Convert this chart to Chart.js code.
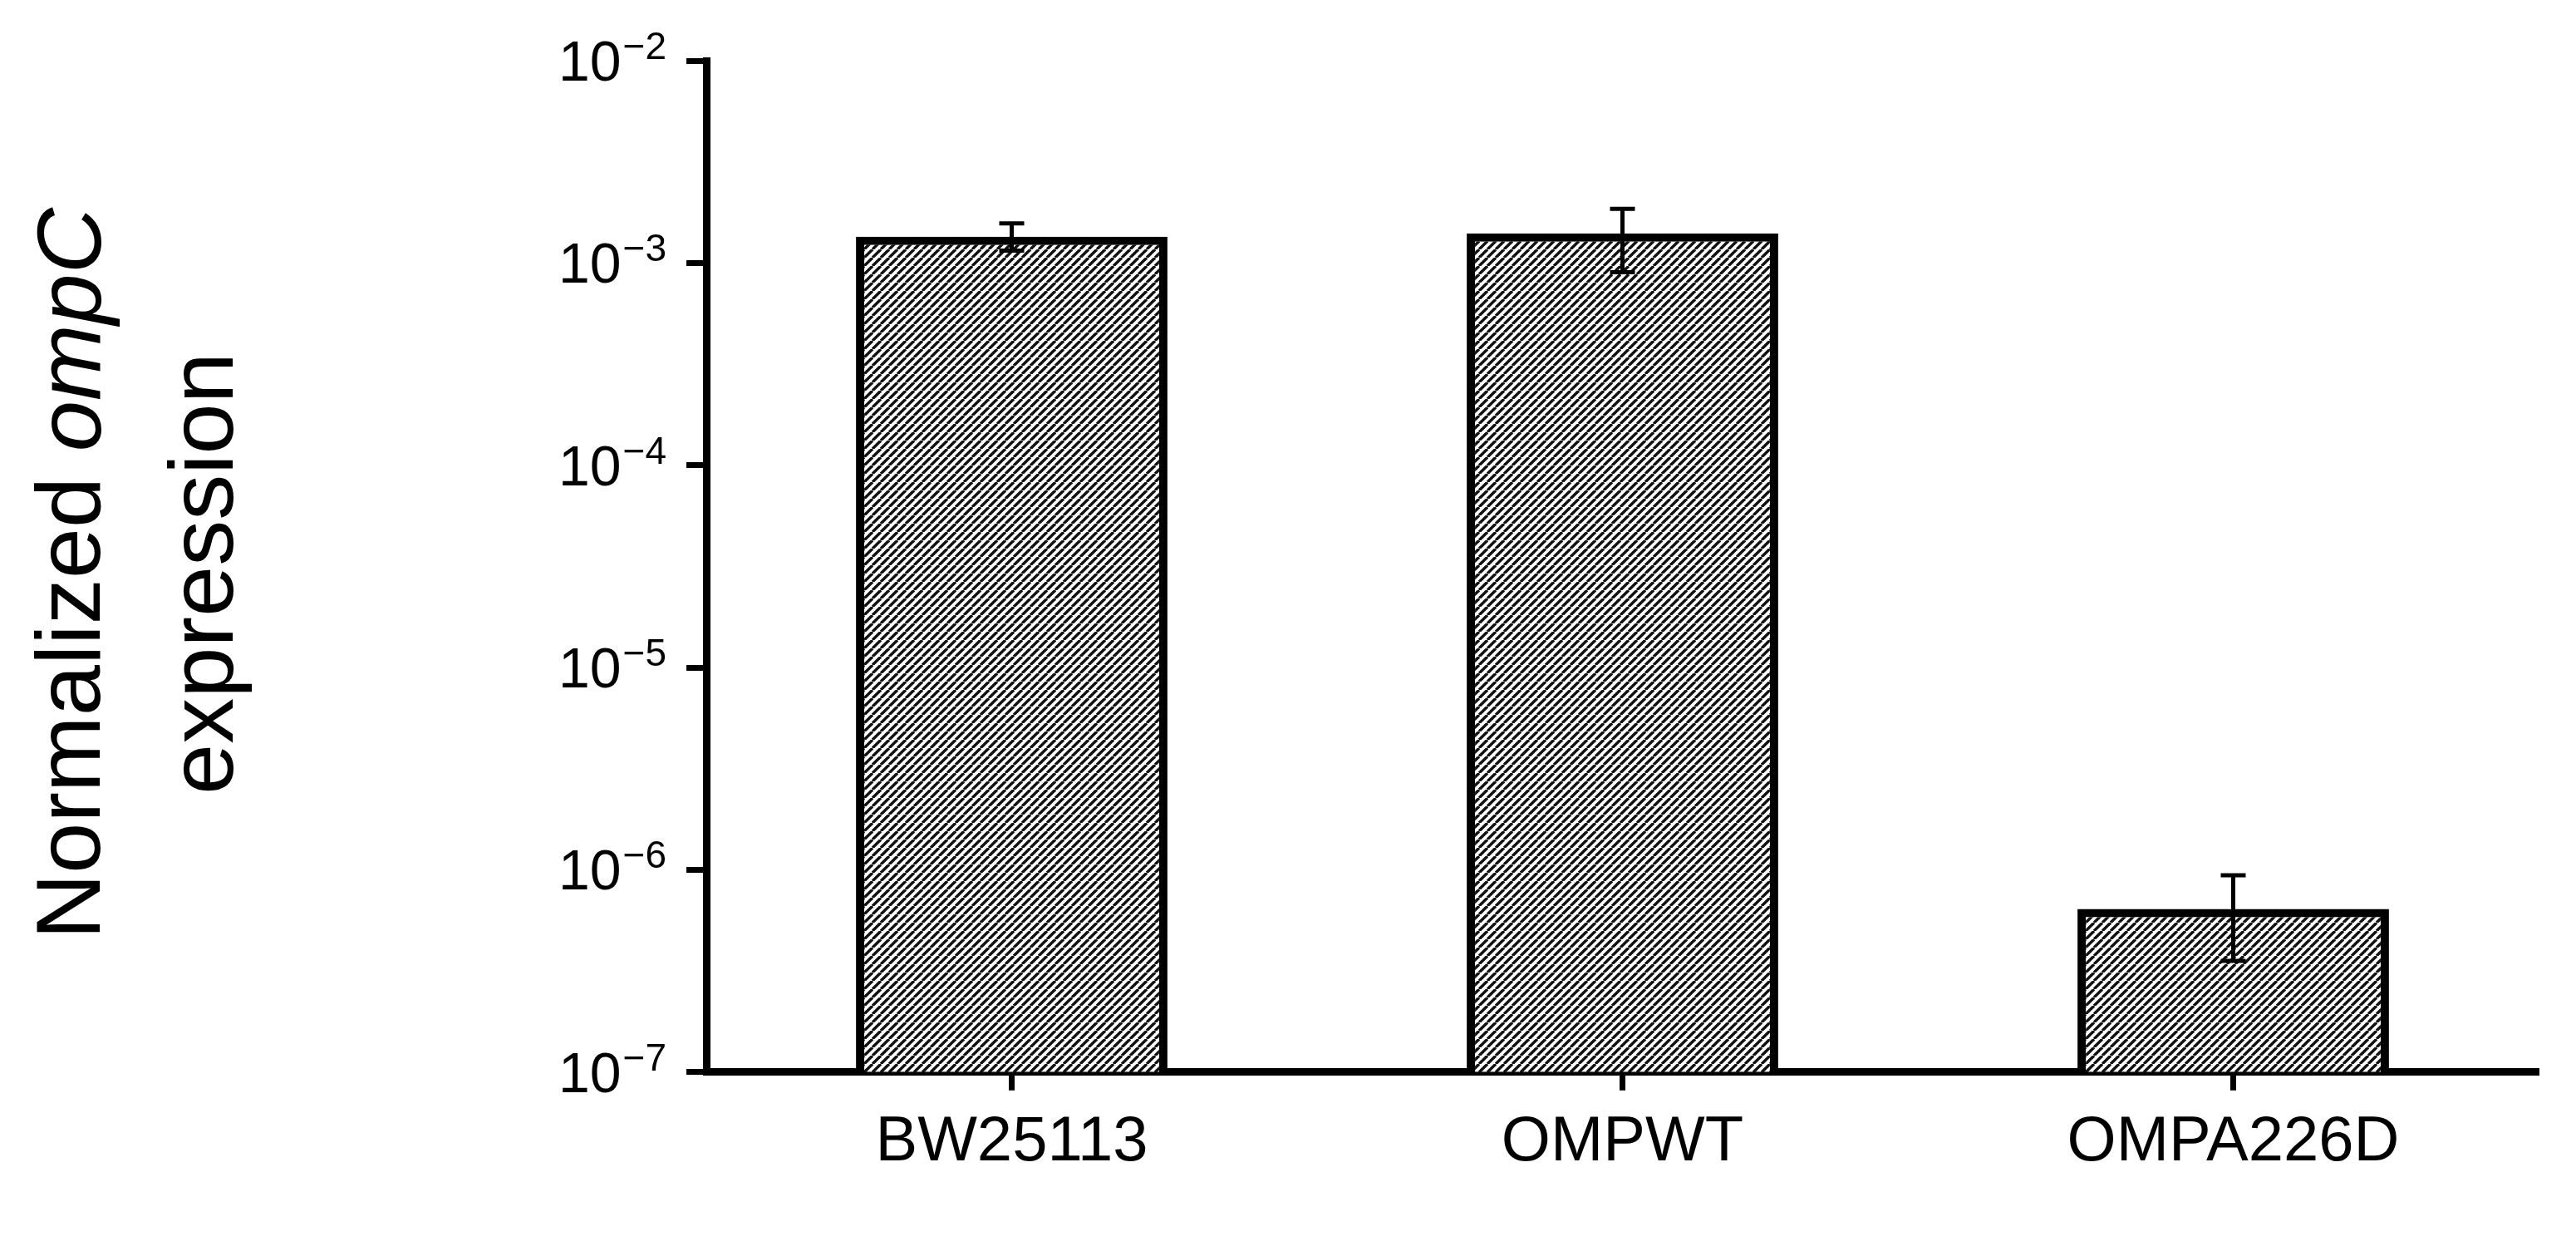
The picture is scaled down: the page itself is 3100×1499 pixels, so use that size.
<!DOCTYPE html>
<html><head><meta charset="utf-8">
<script src="https://cdn.jsdelivr.net/npm/chart.js@4.4.0/dist/chart.umd.min.js"></script>
<style>html,body{margin:0;padding:0;background:#fff}#w{width:3100px;height:1499px}</style>
</head><body><div id="w"><canvas id="c"></canvas></div>
<script>
const categories = ["BW25113", "OMPWT", "OMPA226D"];
const values = [1.35e-3, 1.40e-3, 6.4e-7];
const errLow = [1.15e-3, 0.90e-3, 3.55e-7];
const errHigh = [1.57e-3, 1.85e-3, 9.4e-7];
const decadeTicks = [-7, -6, -5, -4, -3, -2];
const FONT = '"Liberation Sans", Arial, sans-serif';

function hatch(){
  const s = 10, p = document.createElement('canvas'); p.width = s; p.height = s;
  const g = p.getContext('2d'); g.fillStyle = '#fff'; g.fillRect(0,0,s,s);
  g.strokeStyle = '#111'; g.lineWidth = 3.4;
  for (const o of [-s, 0, s]) { g.beginPath(); g.moveTo(o, s); g.lineTo(o + s, 0); g.stroke(); }
  return document.getElementById('c').getContext('2d').createPattern(p, 'repeat');
}

const errPlugin = {
  id: 'err',
  afterDatasetsDraw(chart){
    const ctx = chart.ctx, y = chart.scales.y, meta = chart.getDatasetMeta(0);
    ctx.save(); ctx.strokeStyle = '#000'; ctx.lineWidth = 5;
    meta.data.forEach((b, i) => {
      const x = b.x, y1 = y.getPixelForValue(errLow[i]), y2 = y.getPixelForValue(errHigh[i]);
      ctx.beginPath(); ctx.moveTo(x, y1); ctx.lineTo(x, y2);
      ctx.moveTo(x - 15, y1); ctx.lineTo(x + 15, y1);
      ctx.moveTo(x - 15, y2); ctx.lineTo(x + 15, y2); ctx.stroke();
    });
    ctx.restore();
  }
};
const labelPlugin = {
  id: 'ylabels',
  afterDraw(chart){
    const ctx = chart.ctx, y = chart.scales.y; ctx.save();
    ctx.fillStyle = '#000'; ctx.textBaseline = 'alphabetic';
    const right = y.right - 48;
    decadeTicks.forEach(e => {
      const py = y.getPixelForValue(Math.pow(10, e));
      const ex = '\u2212' + Math.abs(e);
      ctx.font = '46px ' + FONT; const we = ctx.measureText(ex).width;
      ctx.textAlign = 'left';
      ctx.fillText(ex, right - we, py - 2);
      ctx.font = '68px ' + FONT; ctx.textAlign = 'right';
      ctx.fillText('10', right - we - 2, py + 24);
    });
    // title
    ctx.translate(0, 690); ctx.rotate(-Math.PI/2);
    ctx.textBaseline = 'middle';
    const f = '110px ' + FONT, fi = 'italic 110px ' + FONT;
    ctx.font = f; const a = 'Normalized '; const wa = ctx.measureText(a).width;
    ctx.font = fi; const b = 'ompC'; const wb = ctx.measureText(b).width;
    const x0 = -(wa + wb)/2;
    ctx.font = f; ctx.textAlign = 'left'; ctx.fillText(a, x0, 90);
    ctx.font = fi; ctx.fillText(b, x0 + wa, 90);
    ctx.font = f; ctx.textAlign = 'center'; ctx.fillText('expression', 0, 250);
    ctx.restore();
  }
};

Chart.defaults.font.family = FONT;
new Chart(document.getElementById('c'), {
  type: 'bar',
  data: { labels: categories, datasets: [{ data: values, backgroundColor: hatch(), borderColor: '#000', borderWidth: 10, borderSkipped: 'bottom', barPercentage: 0.51, categoryPercentage: 1 }] },
  options: {
    responsive: true, maintainAspectRatio: false, devicePixelRatio: 1, animation: false,
    layout: { padding: { left: 600, top: 73, right: 45, bottom: 60 } },
    plugins: { legend: { display: false }, tooltip: { enabled: false } },
    scales: {
      x: {
        grid: { drawOnChartArea: false, offset: false, tickLength: 22, tickWidth: 7, color: '#000' },
        border: { color: '#000', width: 9 },
        ticks: { color: '#000', font: { size: 76 }, padding: 18 }
      },
      y: {
        type: 'logarithmic', min: 1e-7, max: 1e-2,
        afterBuildTicks(s){ s.ticks = decadeTicks.map(e => ({ value: Math.pow(10, e) })); },
        afterFit(s){ s.width = 250; },
        grid: { drawOnChartArea: false, tickLength: 24, tickWidth: 7, color: '#000' },
        border: { color: '#000', width: 9 },
        ticks: { color: '#000', font: { size: 20 }, callback(){ return ' '; } }
      }
    }
  },
  plugins: [errPlugin, labelPlugin]
});
</script></body></html>
